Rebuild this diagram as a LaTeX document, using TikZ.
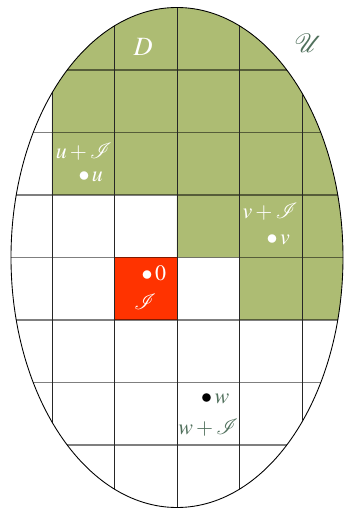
\documentclass[tikz,border=0pt]{standalone}
\usepackage{mathptmx}
\usepackage{mathrsfs}
\definecolor{olivegreen}{RGB}{173,188,115}
\definecolor{redcell}{RGB}{255,51,0}
\definecolor{labelgreen}{RGB}{80,112,92}
\tikzset{
  gridh/.style={draw=black, draw opacity=0.5, line width=0.6pt},
  gridv/.style={draw=black!85, line width=0.4pt},
  outline/.style={draw=black, line width=0.4pt},
  wlabel/.style={text=white, inner sep=0pt},
  glabel/.style={text=labelgreen, inner sep=0pt}
}
\begin{document}
\begin{tikzpicture}
\useasboundingbox (-2.832,-4.008) rectangle (2.656,4.12);
\begin{scope}
  \clip (0,0) ellipse [x radius=2.656, y radius=4];
  \fill[olivegreen] (-3,5) -- (3,5) -- (3,-1) -- (1,-1) -- (1,0) -- (0,0) -- (0,1) -- (-2,1) -- (-2,3) -- (-3,3) -- cycle;
  \fill[redcell] (-1,-1) rectangle (0,0);
  \foreach \y in {-3,...,3} \draw[gridh] (-3,\y) -- (3,\y);
  \foreach \x in {-2,...,2} \draw[gridv] (\x,-5) -- (\x,5);
\end{scope}
\draw[outline] (0,0) ellipse [x radius=2.656, y radius=4];
\node[wlabel, font=\large] (D) at (-0.54,3.37) {$D$};
\node[glabel, font=\large] (U) at (2.10,3.43) {$\mathscr{U}$};
\node[wlabel] (uI) at (-1.49,1.70) {$u+\mathscr{I}$};
\node[wlabel] (u) at (-1.38,1.29) {$\bullet\,u$};
\node[wlabel] (vI) at (1.49,0.74) {$v+\mathscr{I}$};
\node[wlabel] (v) at (1.62,0.28) {$\bullet\,v$};
\node[wlabel] (zero) at (-0.37,-0.25) {$\bullet\,0$};
\node[wlabel] (I) at (-0.51,-0.71) {$\mathscr{I}$};
\node[glabel] (w) at (0.61,-2.26) {$\textcolor{black}{\bullet}\,w$};
\node[glabel] (wI) at (0.50,-2.73) {$w+\mathscr{I}$};
\end{tikzpicture}
\end{document}
